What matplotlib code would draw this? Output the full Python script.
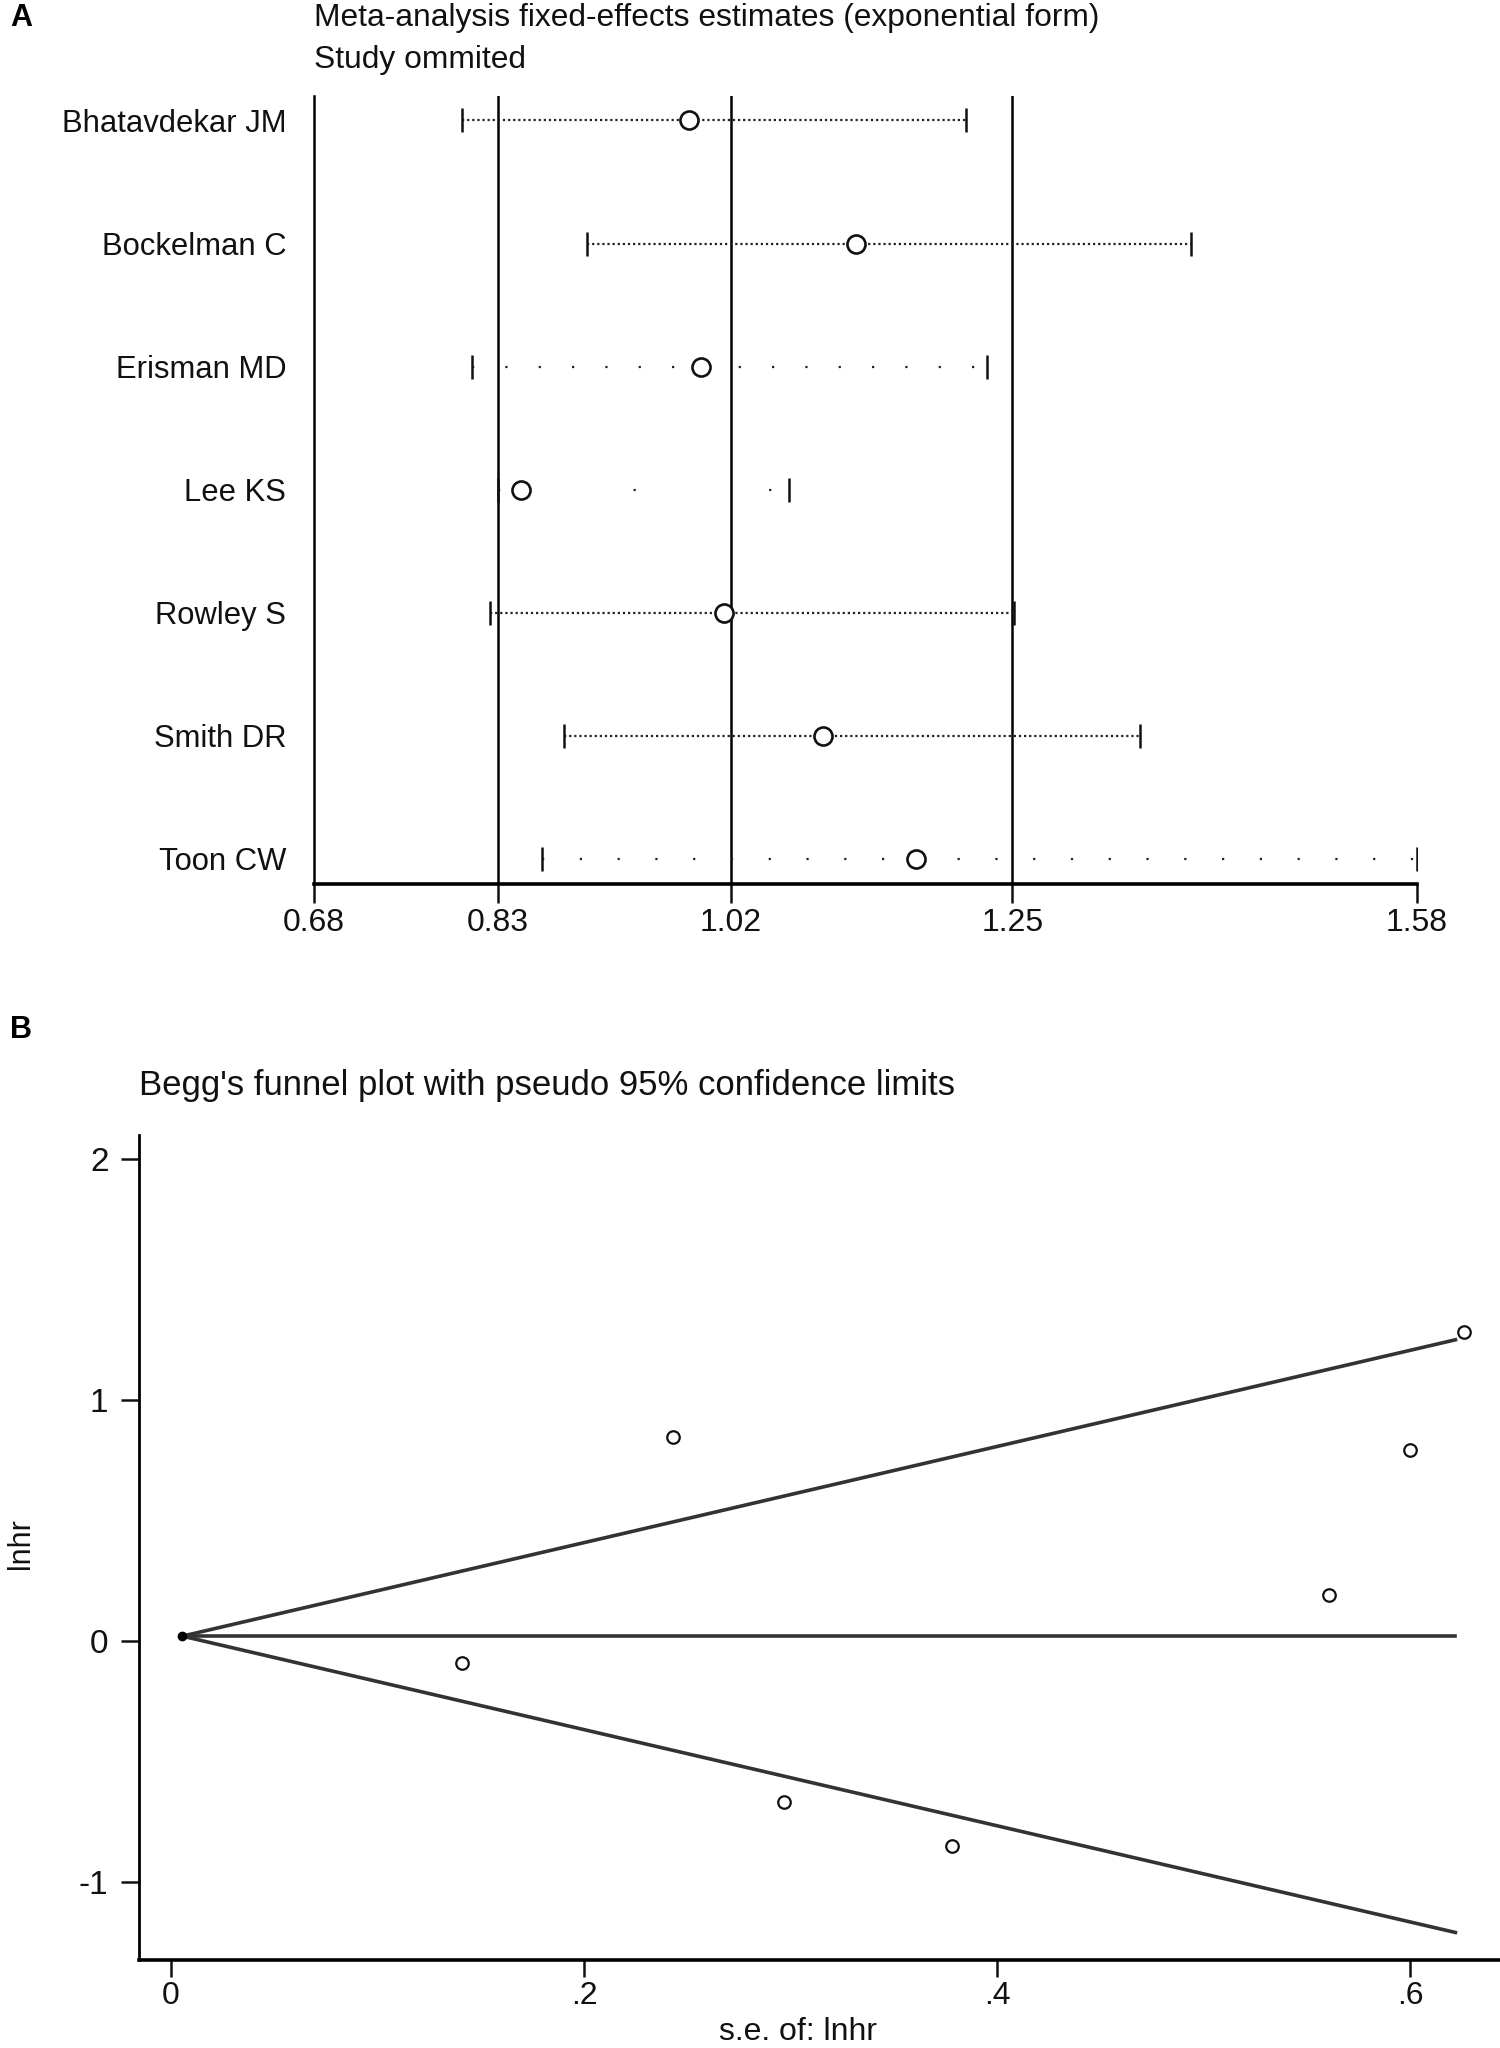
import matplotlib
matplotlib.use("Agg")
import matplotlib.pyplot as plt

plt.rcParams['font.family'] = ['Liberation Sans', 'DejaVu Sans']

# ---------------- Panel A data ----------------
studies = ["Bhatavdekar JM", "Bockelman C", "Erisman MD", "Lee KS",
           "Rowley S", "Smith DR", "Toon CW"]
est = [0.986, 1.122, 0.996, 0.849, 1.015, 1.095, 1.171]
ci_low = [0.801, 0.903, 0.809, 0.830, 0.824, 0.884, 0.866]
ci_high = [1.212, 1.396, 1.229, 1.068, 1.251, 1.354, 1.580]
overall_lines = [0.83, 1.02, 1.25]
xticks_a = [0.68, 0.83, 1.02, 1.25, 1.58]
xticklabels_a = ["0.68", "0.83", "1.02", "1.25", "1.58"]

# ---------------- Panel B data ----------------
se_lnhr = [0.141, 0.243, 0.297, 0.378, 0.561, 0.600, 0.626]
lnhr = [-0.093, 0.845, -0.668, -0.853, 0.189, 0.791, 1.282]
funnel_se = [0.0055, 0.622]
funnel_upper = [0.02, 1.25]
funnel_center = [0.02, 0.02]
funnel_lower = [0.02, -1.21]
yticks_b = [-1, 0, 1, 2]
xticks_b = [0, 0.2, 0.4, 0.6]
xticklabels_b = ["0", ".2", ".4", ".6"]

TXT = '#111111'
fig = plt.figure(figsize=(15, 20.48), dpi=100)

# ================= Panel A =================
axA = fig.add_axes([0.2093, 0.5684, 0.7353, 0.3848])
axA.set_xlim(0.68, 1.58)
axA.set_ylim(0.797, 7.2)
for s in ['top', 'right']:
    axA.spines[s].set_visible(False)
axA.spines['left'].set_linewidth(1.8)
axA.spines['bottom'].set_linewidth(2.6)

for xv in overall_lines:
    axA.axvline(xv, color='black', lw=1.8, zorder=1)

ypos = list(range(len(studies), 0, -1))
dash_style = {"Erisman MD": (0, (1, 14)), "Lee KS": (0, (1, 60)), "Toon CW": (0, (1, 16))}
for yv, name, lo, hi, e in zip(ypos, studies, ci_low, ci_high, est):
    ls = dash_style.get(name, (0, (1, 1.3)))
    axA.plot([lo, hi], [yv, yv], color='#222222', lw=1.6, linestyle=ls, zorder=2)
    axA.plot([lo, hi], [yv, yv], linestyle='none', marker='|', ms=17, mew=1.8,
             color='#111111', zorder=3)
    axA.plot([e], [yv], linestyle='none', marker='o', ms=13, mew=1.9,
             mfc='white', mec='#111111', zorder=4)

axA.set_xticks(xticks_a)
axA.set_xticklabels(xticklabels_a)
axA.tick_params(axis='x', length=14, width=1.8, pad=3, labelsize=23, colors=TXT)
axA.set_yticks(ypos)
axA.set_yticklabels(studies)
axA.tick_params(axis='y', length=0, pad=20, labelsize=22.3, colors=TXT)

fig.text(10 / 1500, 1 - 18 / 2048, "A", fontsize=22, fontweight='bold',
         va='center', ha='left', color='black')
fig.text(314 / 1500, 1 - 18 / 2048, "Meta-analysis fixed-effects estimates (exponential form)",
         fontsize=22.9, va='center', ha='left', color=TXT)
fig.text(314 / 1500, 1 - 60 / 2048, "Study ommited",
         fontsize=22.9, va='center', ha='left', color=TXT)

# ================= Panel B =================
axB = fig.add_axes([0.0927, 0.0430, 0.9073, 0.4028])
axB.set_xlim(-0.0155, 0.6436)
axB.set_ylim(-1.324, 2.10)
for s in ['top', 'right']:
    axB.spines[s].set_visible(False)
axB.spines['left'].set_linewidth(2.0)
axB.spines['bottom'].set_linewidth(2.6)

axB.plot(funnel_se, funnel_upper, color='#333333', lw=2.6, zorder=2)
axB.plot(funnel_se, funnel_center, color='#333333', lw=2.6, zorder=2)
axB.plot(funnel_se, funnel_lower, color='#333333', lw=2.6, zorder=2)
axB.plot([funnel_se[0]], [funnel_center[0]], marker='o', ms=6, color='black',
         linestyle='none', zorder=3)
axB.plot(se_lnhr, lnhr, linestyle='none', marker='o', ms=9, mew=1.6,
         mfc='white', mec='#111111', zorder=4)

axB.set_yticks(yticks_b)
axB.set_yticklabels([str(v) for v in yticks_b])
axB.tick_params(axis='y', length=13, width=1.8, pad=9, labelsize=24, colors=TXT)
axB.set_xticks(xticks_b)
axB.set_xticklabels(xticklabels_b)
axB.tick_params(axis='x', length=12, width=1.8, pad=3, labelsize=23, colors=TXT)

fig.text(10 / 1500, 1 - 1030 / 2048, "B", fontsize=22, fontweight='bold',
         va='center', ha='left', color='black')
fig.text(139 / 1500, 1 - 1086 / 2048, "Begg's funnel plot with pseudo 95% confidence limits",
         fontsize=25, va='center', ha='left', color=TXT)
fig.text(21 / 1500, 1 - 1544 / 2048, "lnhr", fontsize=22, rotation=90,
         va='center', ha='center', color=TXT)
fig.text(798 / 1500, 1 - 2032 / 2048, "s.e. of: lnhr", fontsize=23,
         va='center', ha='center', color=TXT)

fig.savefig("out.png", dpi=100)
